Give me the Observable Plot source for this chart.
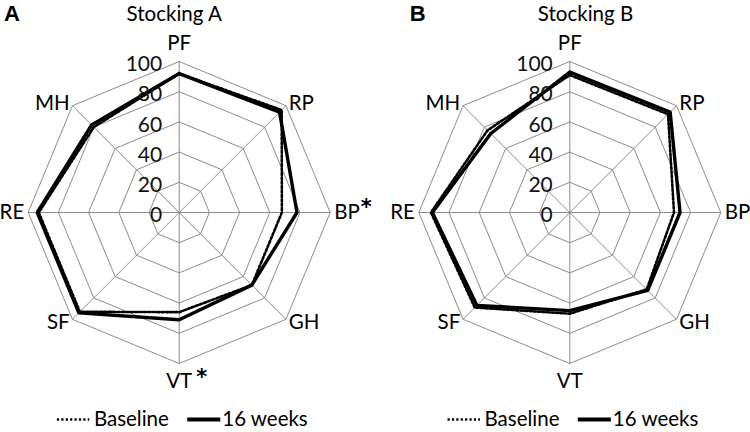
<!DOCTYPE html>
<html><head><meta charset="utf-8">
<script src="https://cdn.jsdelivr.net/npm/d3@7"></script>
<script src="https://cdn.jsdelivr.net/npm/@observablehq/plot@0.6"></script>
<style>body{margin:0;background:#fff} svg{display:block}</style>
</head><body><div id="chart"></div>
<script>
// ---- data ----
const axes = ["PF", "RP", "BP", "GH", "VT", "SF", "RE", "MH"];
const panelLetters = ["A", "B"];
const panelTitles = ["Stocking A", "Stocking B"];
const significantA = ["BP", "VT"];   // marked with * in panel A
const significantB = [];
const baselineA = [92, 96, 68, 68, 66, 93, 93, 80];
const week16A   = [92, 94, 78, 68, 71, 94, 94, 82];
const baselineB = [91, 92, 69, 72, 67, 89, 92, 77];
const week16B   = [93, 94, 73, 73, 65, 87, 91, 74];
const ringLevels = [20, 40, 60, 80, 100];
const tickValues = [0, 20, 40, 60, 80, 100];
const seriesNames = ["Baseline", "16 weeks"];

// ---- layout ----
const W = 750, H = 432, K = 1.51;            // px per value unit
const cxPx = [178.7, 569.3], cyPx = 212;
const xDomain = [-cxPx[0] / K, (W - cxPx[0]) / K];
const yDomain = [-(H - cyPx) / K, cyPx / K];
const off = p => (cxPx[p] - cxPx[0]) / K;
const ang = i => i * Math.PI / 4;
const pt = (p, i, v) => ({x: off(p) + v * Math.sin(ang(i)), y: v * Math.cos(ang(i))});
const FONT = "Lato, 'Open Sans', sans-serif";

const rings = [], spokes = [], series = [], ticks = [], labels = [], stars = [];
const seriesData = [[baselineA, week16A], [baselineB, week16B]];
const sigSets = [significantA, significantB];
for (let p = 0; p < 2; p++) {
  for (const lv of ringLevels)
    for (let i = 0; i <= axes.length; i++) rings.push({...pt(p, i % 8, lv), key: p + "-" + lv});
  axes.forEach((a, i) => {
    const e = pt(p, i, 100), c = pt(p, i, 0);
    spokes.push({x1: c.x, y1: c.y, x2: e.x, y2: e.y});
  });
  seriesNames.forEach((s, si) => {
    const vals = seriesData[p][si];
    for (let i = 0; i <= axes.length; i++) series.push({...pt(p, i % 8, vals[i % 8]), key: p + "-" + s, s});
  });
  tickValues.forEach(t => ticks.push({x: off(p), y: t, text: String(t)}));
  axes.forEach((l, i) => {
    const r = (i % 4 === 0) ? 112 : 102.6;
    const anchor = (i % 4 === 0) ? "middle" : (i < 4 ? "start" : "end");
    const pos = pt(p, i, r);
    labels.push({...pos, text: l, anchor});
    if (sigSets[p].includes(l)) stars.push({...pos, anchor});
  });
}
const titles = panelTitles.map((t, p) => ({x: off(p) + [-3.3, 10.4][p], y: (cyPx - 14) / K, text: t}));
const letters = panelLetters.map((t, p) => ({x: off(p) + [-116, -106][p], y: (cyPx - 13) / K, text: t}));
const legY = (cyPx - 419) / K;
const legLines = [];
const legTexts = [];
for (let p = 0; p < 2; p++) {
  legLines.push({x1: off(p) - 81, x2: off(p) - 59.5, y: legY, s: seriesNames[0]});
  legLines.push({x1: off(p) + 5.3, x2: off(p) + 27.2, y: legY, s: seriesNames[1]});
  legTexts.push({x: off(p) - 56.5, y: legY, text: seriesNames[0]});
  legTexts.push({x: off(p) + 28.5, y: legY, text: seriesNames[1]});
}

const chart = Plot.plot({
  width: W, height: H, margin: 0,
  x: {domain: xDomain, axis: null},
  y: {domain: yDomain, axis: null},
  style: {fontFamily: FONT, background: "#fff"},
  marks: [
    Plot.line(rings, {x: "x", y: "y", z: "key", stroke: "#8c8c8c", strokeWidth: 1}),
    Plot.link(spokes, {x1: "x1", y1: "y1", x2: "x2", y2: "y2", stroke: "#8c8c8c", strokeWidth: 1}),
    Plot.line(series.filter(d => d.s === "Baseline"), {x: "x", y: "y", z: "key", stroke: "#000", strokeWidth: 2.6, strokeDasharray: "2.2,2.2"}),
    Plot.line(series.filter(d => d.s === "16 weeks"), {x: "x", y: "y", z: "key", stroke: "#000", strokeWidth: 3.4, strokeLinejoin: "miter"}),
    Plot.text(ticks, {x: "x", y: "y", text: "text", textAnchor: "end", dx: -17, dy: 3, fontSize: 21, fill: "#111"}),
    ...["start", "middle", "end"].map(a => Plot.text(labels.filter(d => d.anchor === a), {x: "x", y: "y", text: "text", textAnchor: a, fontSize: 20.5, fill: "#000"})),
    Plot.text(stars.filter(d => d.anchor === "start"), {x: "x", y: "y", text: () => "*", textAnchor: "start", dx: 26.5, dy: -5, fontSize: 21, fontWeight: "bold", fontFamily: "'DejaVu Sans', sans-serif", fill: "#000"}),
    Plot.text(stars.filter(d => d.anchor === "middle"), {x: "x", y: "y", text: () => "*", textAnchor: "start", dx: 17, dy: -4, fontSize: 21, fontWeight: "bold", fontFamily: "'DejaVu Sans', sans-serif", fill: "#000"}),
    Plot.text(titles, {x: "x", y: "y", text: "text", fontSize: 20.5, fill: "#000"}),
    Plot.text(letters, {x: "x", y: "y", text: "text", fontSize: 22, fontWeight: "bold", textAnchor: "start", fontFamily: "'Liberation Sans', Arial, sans-serif", fill: "#000"}),
    Plot.link(legLines.filter(d => d.s === "Baseline"), {x1: "x1", x2: "x2", y1: "y", y2: "y", stroke: "#000", strokeWidth: 2.6, strokeDasharray: "2.2,2.2"}),
    Plot.link(legLines.filter(d => d.s === "16 weeks"), {x1: "x1", x2: "x2", y1: "y", y2: "y", stroke: "#000", strokeWidth: 3.8}),
    Plot.text(legTexts, {x: "x", y: "y", text: "text", textAnchor: "start", fontSize: 20.5, fill: "#000"})
  ]
});
document.getElementById("chart").appendChild(chart);
</script>
</body></html>
